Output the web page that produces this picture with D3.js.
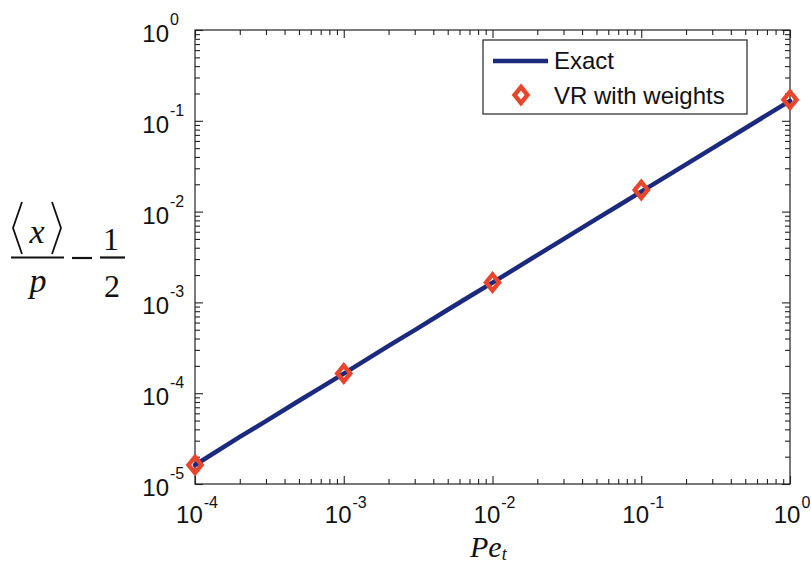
<!DOCTYPE html>
<html>
<head>
<meta charset="utf-8">
<script src="https://cdn.jsdelivr.net/npm/d3@7"></script>
<style>
  html, body { margin: 0; padding: 0; background: #fff; }
  svg { display: block; }
</style>
</head>
<body>
<svg id="chart" width="811" height="565"></svg>
<script>
// Exact solution curve (Pe_t, <x>/p - 1/2)
const exactPe  = [1e-4, 2e-4, 3e-4, 5e-4, 7e-4, 1e-3, 2e-3, 3e-3, 5e-3, 7e-3,
                  1e-2, 2e-2, 3e-2, 5e-2, 7e-2, 1e-1, 2e-1, 3e-1, 5e-1, 7e-1, 1];
const exactVal = [1.62e-5, 3.30e-5, 4.92e-5, 8.25e-5, 1.15e-4, 1.64e-4, 3.32e-4, 4.95e-4, 8.30e-4, 1.16e-3,
                  1.65e-3, 3.32e-3, 4.98e-3, 8.30e-3, 1.16e-2, 1.66e-2, 3.31e-2, 4.97e-2, 8.28e-2, 1.16e-1, 1.66e-1];

// Variance-reduced estimates with weights
const vrPe  = [1e-4, 1e-3, 1e-2, 1e-1, 1];
const vrVal = [1.62e-5, 1.65e-4, 1.66e-3, 1.73e-2, 0.171];

// Axis decades (exponents of the major tick labels)
const xExponents = [-4, -3, -2, -1, 0];
const yExponents = [-5, -4, -3, -2, -1, 0];

const legendLabels = ["Exact", "VR with weights"];

const lineColor = "#1b2a7c";
const markColor = "#e8452c";

const svg = d3.select("#chart");
const L = 195, R = 790, T = 30, B = 484;

const x = d3.scaleLog().domain([1e-4, 1]).range([L, R]);
const y = d3.scaleLog().domain([1e-5, 1]).range([B, T]);

function minors(lo, hi) {
  const out = [];
  for (let e = lo; e < hi; e++) for (let k = 2; k <= 9; k++) out.push(k * Math.pow(10, e));
  return out;
}
const xMajor = xExponents.map(e => Math.pow(10, e));
const yMajor = yExponents.map(e => Math.pow(10, e));
const xMinor = minors(-4, 0);
const yMinor = minors(-5, 0);

const axisStyle = g => {
  g.selectAll("path.domain").remove();
  g.selectAll("line").attr("stroke", "#222").attr("stroke-width", 1.1);
  g.selectAll("text").remove();
};

// inward ticks on all four sides
svg.append("g").attr("transform", `translate(0,${B})`)
  .call(d3.axisBottom(x).tickValues(xMajor).tickSize(-8)).call(axisStyle);
svg.append("g").attr("transform", `translate(0,${B})`)
  .call(d3.axisBottom(x).tickValues(xMinor).tickSize(-5)).call(axisStyle);
svg.append("g").attr("transform", `translate(0,${T})`)
  .call(d3.axisTop(x).tickValues(xMajor).tickSize(-8)).call(axisStyle);
svg.append("g").attr("transform", `translate(0,${T})`)
  .call(d3.axisTop(x).tickValues(xMinor).tickSize(-5)).call(axisStyle);
svg.append("g").attr("transform", `translate(${L},0)`)
  .call(d3.axisLeft(y).tickValues(yMajor).tickSize(-8)).call(axisStyle);
svg.append("g").attr("transform", `translate(${L},0)`)
  .call(d3.axisLeft(y).tickValues(yMinor).tickSize(-5)).call(axisStyle);
svg.append("g").attr("transform", `translate(${R},0)`)
  .call(d3.axisRight(y).tickValues(yMajor).tickSize(-8)).call(axisStyle);
svg.append("g").attr("transform", `translate(${R},0)`)
  .call(d3.axisRight(y).tickValues(yMinor).tickSize(-5)).call(axisStyle);

// box frame
svg.append("rect").attr("x", L).attr("y", T).attr("width", R - L).attr("height", B - T)
  .attr("fill", "none").attr("stroke", "#222").attr("stroke-width", 1.2);

const tickFont = "'Liberation Sans', Arial, sans-serif";

// x tick labels: 10^n centred on tick
xExponents.forEach(e => {
  const t = svg.append("text").attr("x", x(Math.pow(10, e)) + 2).attr("y", 523)
    .attr("text-anchor", "middle").attr("font-family", tickFont).attr("fill", "#111");
  t.append("tspan").attr("font-size", 24).text("10");
  t.append("tspan").attr("font-size", 16).attr("dy", -15).attr("dx", 1).text(String(e));
});

// y tick labels: "10" right-aligned, exponent after it
yExponents.forEach(e => {
  const yy = y(Math.pow(10, e));
  svg.append("text").attr("x", 169).attr("y", yy + 12).attr("text-anchor", "end")
    .attr("font-family", tickFont).attr("font-size", 24).attr("fill", "#111").text("10");
  svg.append("text").attr("x", 170).attr("y", yy - 5).attr("text-anchor", "start")
    .attr("font-family", tickFont).attr("font-size", 16).attr("fill", "#111").text(String(e));
});

// exact curve
const line = d3.line().x((d, i) => x(exactPe[i])).y(d => y(d));
svg.append("path").datum(exactVal).attr("d", line)
  .attr("fill", "none").attr("stroke", lineColor).attr("stroke-width", 4.5)
  .attr("stroke-linejoin", "round").attr("stroke-linecap", "round");

// diamond markers
const diamond = (cx, cy) => `M${cx},${cy - 8}L${cx + 6.5},${cy}L${cx},${cy + 8}L${cx - 6.5},${cy}Z`;
svg.append("g").selectAll("path").data(vrVal).join("path")
  .attr("d", (d, i) => diamond(x(vrPe[i]), y(d)))
  .attr("fill", "none").attr("stroke", markColor).attr("stroke-width", 4.4)
  .attr("stroke-linejoin", "miter");

// legend
const lg = svg.append("g");
lg.append("rect").attr("x", 483).attr("y", 40).attr("width", 264).attr("height", 74)
  .attr("fill", "#fff").attr("stroke", "#222").attr("stroke-width", 1.2);
lg.append("line").attr("x1", 493).attr("x2", 548).attr("y1", 61).attr("y2", 61)
  .attr("stroke", lineColor).attr("stroke-width", 4.5);
lg.append("path").attr("d", diamond(521, 95))
  .attr("fill", "none").attr("stroke", markColor).attr("stroke-width", 4.4);
lg.selectAll("text").data(legendLabels).join("text")
  .attr("x", 554).attr("y", (d, i) => 69 + i * 35)
  .attr("font-family", tickFont).attr("font-size", 24).attr("fill", "#111").text(d => d);

// x-axis title: Pe_t
const serif = "'Liberation Serif', 'Times New Roman', serif";
const xt = svg.append("text").attr("x", 470).attr("y", 557)
  .attr("font-family", serif).attr("font-style", "italic").attr("fill", "#111");
xt.append("tspan").attr("font-size", 30).text("Pe");
xt.append("tspan").attr("font-size", 18).attr("dy", 3).text("t");

// y-axis title: <x>/p - 1/2
const yl = svg.append("g").attr("fill", "#111").attr("font-family", serif);
yl.append("path").attr("d", "M22,202L13,228L22,254").attr("fill", "none").attr("stroke", "#111").attr("stroke-width", 1.8);
yl.append("path").attr("d", "M52,202L61,228L52,254").attr("fill", "none").attr("stroke", "#111").attr("stroke-width", 1.8);
yl.append("text").attr("x", 37).attr("y", 243).attr("text-anchor", "middle")
  .attr("font-size", 34).attr("font-style", "italic").text("x");
yl.append("line").attr("x1", 11).attr("x2", 64).attr("y1", 257.5).attr("y2", 257.5)
  .attr("stroke", "#111").attr("stroke-width", 2.2);
yl.append("text").attr("x", 38).attr("y", 292).attr("text-anchor", "middle")
  .attr("font-size", 34).attr("font-style", "italic").text("p");
yl.append("line").attr("x1", 72).attr("x2", 92).attr("y1", 258).attr("y2", 258)
  .attr("stroke", "#111").attr("stroke-width", 2.2);
yl.append("text").attr("x", 111).attr("y", 250).attr("text-anchor", "middle")
  .attr("font-size", 32).text("1");
yl.append("line").attr("x1", 100).attr("x2", 125).attr("y1", 257.5).attr("y2", 257.5)
  .attr("stroke", "#111").attr("stroke-width", 2.2);
yl.append("text").attr("x", 112).attr("y", 297).attr("text-anchor", "middle")
  .attr("font-size", 32).text("2");
</script>
</body>
</html>
